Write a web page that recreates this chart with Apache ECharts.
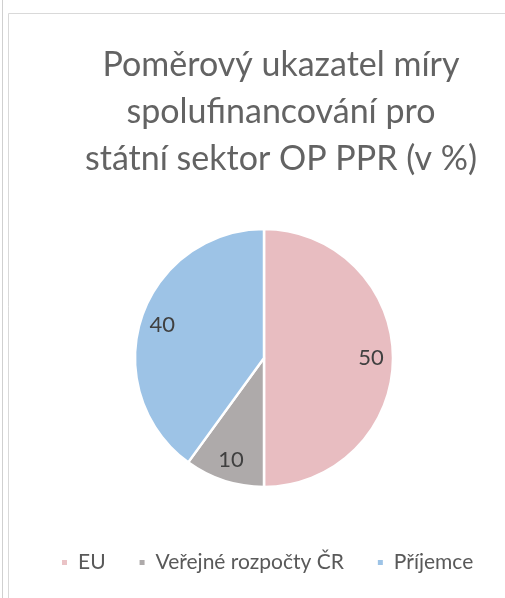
<!DOCTYPE html>
<html><head><meta charset="utf-8">
<script src="https://cdn.jsdelivr.net/npm/echarts@6/dist/echarts.min.js"></script>
<style>html,body{margin:0;padding:0;background:#fff}#c{width:505px;height:598px}</style>
</head><body><div id="c"></div>
<script>
const titleLines = ['Poměrový ukazatel míry', 'spolufinancování pro', 'státní sektor OP PPR (v %)'];
const categories = ['EU', 'Veřejné rozpočty ČR', 'Příjemce'];
const values = [50, 10, 40];
const colors = ['#e8bdc1', '#aeaaaa', '#9dc3e6'];
const legendColors = ['#eac3c6', '#aeaaaa', '#9dc3e6'];

const chart = echarts.init(document.getElementById('c'), null, {renderer: 'canvas'});
const FONT = 'Lato';
const data = categories.map((c, i) => ({name: c, value: values[i], itemStyle: {color: colors[i]}}));
const labelData = categories.map((c, i) => ({name: c, value: values[i]}));
chart.setOption({
  backgroundColor: '#fff',
  animation: false,
  graphic: [
    {type: 'line', shape: {x1: 2.5, y1: 0, x2: 2.5, y2: 598}, style: {stroke: '#d0d0d0', lineWidth: 1}},
    {type: 'rect', shape: {x: 8.5, y: 13.5, width: 520, height: 620}, style: {fill: 'none', stroke: '#d9d9d9', lineWidth: 1}}
  ],
  title: {
    text: titleLines.join('\n'),
    left: 276, top: 37, textAlign: 'center',
    textStyle: {fontFamily: FONT, fontSize: 34, fontWeight: 'normal', color: '#636363', lineHeight: 47}
  },
  legend: {
    data: categories.map((c, i) => ({name: c, itemStyle: {color: legendColors[i]}})),
    left: 60, top: 552, padding: 0,
    icon: 'rect', itemWidth: 7, itemHeight: 7, itemGap: 32,
    textStyle: {fontFamily: FONT, fontSize: 21, fontWeight: 'normal', color: '#595959', padding: [0, 0, 0, 5]}
  },
  series: [
    {
      type: 'pie', center: [264, 358], radius: [0, 129], startAngle: 90, clockwise: true,
      data: data, label: {show: false}, labelLine: {show: false},
      itemStyle: {borderColor: '#fff', borderWidth: 2.5}, silent: true
    },
    {
      type: 'pie', center: [264, 358], radius: [80, 128], startAngle: 90, clockwise: true,
      data: labelData, silent: true, legendHoverLink: false,
      itemStyle: {color: 'rgba(0,0,0,0)', borderWidth: 0},
      label: {show: true, position: 'inside', formatter: '{c}', fontFamily: FONT, fontSize: 22, fontWeight: 'normal', color: '#404040'},
      labelLine: {show: false}, z: 5
    }
  ]
});
</script></body></html>
